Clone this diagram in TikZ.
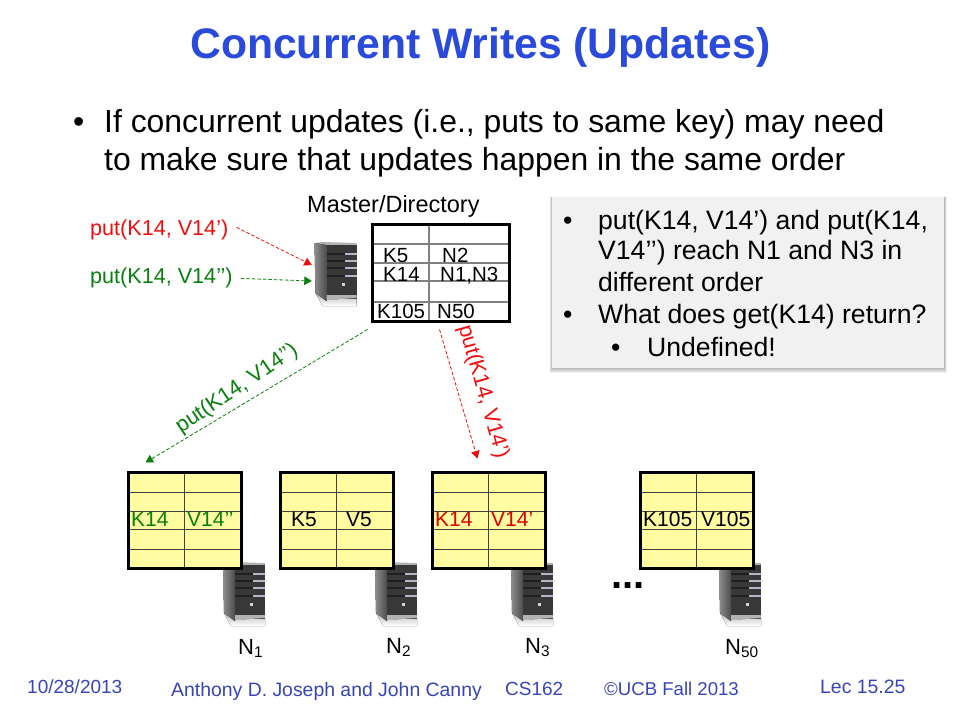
\documentclass[tikz,border=0pt]{standalone}
\usepackage{fontspec}
\usepackage{xcolor}
\usepackage{tikz}
\setmainfont{Liberation Sans}
\definecolor{slideblue}{rgb}{0.16, 0.29, 0.86}
\definecolor{footblue}{rgb}{0.22, 0.27, 0.72}
\definecolor{putgreen}{rgb}{0.03, 0.50, 0.05}
\definecolor{putred}{rgb}{0.95, 0.05, 0.05}
\definecolor{tabyellow}{rgb}{1.0, 0.99, 0.63}
\definecolor{boxgray}{rgb}{0.945, 0.945, 0.945}
\usetikzlibrary{arrows.meta}
\newcommand{\fsz}[1]{\fontsize{#1}{#1}\selectfont}

\tikzset{
	txt/.style = {anchor=base west, inner sep=0pt},
	tabnode/.style = {draw, line width=3pt, minimum width=113pt, minimum height=96pt, inner sep=0pt},
	putarrow/.style = {line width=0.8pt, dash pattern=on 3.5pt off 2pt, -{Triangle[length=7.5pt,width=8.5pt]}},
	serverpic/.pic = {
		\fill[top color=gray!55, bottom color=white] (1,50) -- (12,57) -- (42,55) -- (42,63) -- (8,63) -- cycle;
		\fill[gray!60] (0,0) -- (12,2) -- (42,2) -- (42,0) -- (8,-1) -- cycle;
		\fill[left color=black!45, right color=black!70] (0,0) -- (12,2) -- (12,58) -- (1,50) -- cycle;
		\node[fill=black!78, inner sep=0pt, minimum width=30pt, minimum height=54pt] (-body) at (27,29) {};
		\foreach \ya in {10,17,24,32} {
			\fill[black!88] (12,\ya) rectangle (30,\ya+1.5);
			\fill[blue!15!gray!50] (30,\ya-0.5) rectangle (42,\ya+1.5);
		}
		\fill[gray!35] (27,40) rectangle (30,43);
		\fill[gray!60] (12,52) -- (42,52) -- (42,55) -- (12,57) -- cycle;
	}
}

\begin{document}
\begin{tikzpicture}[x=1pt,y=-1pt]
	\useasboundingbox (0,0) rectangle (960,720);
	\fill[white] (0,0) rectangle (960,720);

	\node[txt, font=\fsz{42.7}\bfseries, text=slideblue] (title) at (190,58) {Concurrent Writes (Updates)};
	\node[txt, font=\fsz{31.9}] (bul0) at (73,132) {•};
	\node[txt, font=\fsz{31.9}] (intro1) at (104,132) {If concurrent updates (i.e., puts to same key) may need};
	\node[txt, font=\fsz{31.9}] (intro2) at (104,170) {to make sure that updates happen in the same order};

	% master
	\node[txt, font=\fsz{23.5}] (mastertxt) at (307,212) {Master/Directory};
	\pic (ms) at (314.5,243) {serverpic};
	\node[tabnode, draw=none, fill=white, minimum width=137pt, minimum height=97pt] (mastertab) at (440.5,272.5) {};
	\draw[gray, line width=1.5pt] (429,224) -- (429,321);
	\foreach \yb in {244,263,281,302} {
		\draw[gray, line width=1.5pt] (372,\yb) -- (509,\yb);
	}
	\node[tabnode, minimum width=137pt, minimum height=97pt] (masterframe) at (440.5,272.5) {};
	\node[txt, font=\fsz{20.5}] (mk1) at (383,262) {K5};
	\node[txt, font=\fsz{20.5}] (mv1) at (442,262) {N2};
	\node[txt, font=\fsz{20.5}] (mk2) at (383,281) {K14};
	\node[txt, font=\fsz{20.5}] (mv2) at (440,281) {N1,N3};
	\node[txt, font=\fsz{20.5}] (mk3) at (377,318) {K105};
	\node[txt, font=\fsz{20.5}] (mv3) at (437,318) {N50};

	\node[txt, font=\fsz{21.6}, text=putred] (putone) at (90,235) {put(K14, V14’)};
	\node[txt, font=\fsz{21.6}, text=putgreen] (puttwo) at (90,283) {put(K14, V14’’)};
	\draw[putarrow, putred] ([shift={(8,-2)}]putone.east) -- ([shift={(-14.5,-7)}]ms-body.west);
	\draw[putarrow, putgreen] ([shift={(8,1)}]puttwo.east) -- ([shift={(-14.5,9)}]ms-body.west);

	% storage nodes
	\foreach \nm/\xa/\sx/\keytxt/\valtxt/\colr/\dk/\dv in {n1/128/95/K14/V14’’/putgreen/3/3, n2/280/95/K5/V5/black/11/10, n3/432/79/K14/V14’/red!85!black/3/3, n50/640/79/K105/V105/black/3/5} {
		\pic (\nm srv) at (\xa+\sx,563) {serverpic};
		\node[tabnode, fill=tabyellow] (\nm tab) at (\xa+56.5,520) {};
		\draw[black!75, line width=1pt] (\xa+56,472) -- (\xa+56,568);
		\foreach \yb in {492,511,529,549} {
			\draw[black!75, line width=1pt] (\xa,\yb) -- (\xa+113,\yb);
		}
		\node[tabnode] (\nm frame) at (\xa+56.5,520) {};
		\node[txt, font=\fsz{21}, text=\colr] (\nm key) at (\xa+\dk,526) {\keytxt};
		\node[txt, font=\fsz{21}, text=\colr] (\nm val) at (\xa+56+\dv,526) {\valtxt};
	}

	\node[txt, font=\fsz{22}] (lab1) at (238,654) {N\textsubscript{1}};
	\node[txt, font=\fsz{22}] (lab2) at (386,653) {N\textsubscript{2}};
	\node[txt, font=\fsz{22}] (lab3) at (525,653) {N\textsubscript{3}};
	\node[txt, font=\fsz{22}] (lab50) at (725,654) {N\textsubscript{50}};
	\node[txt, font=\fsz{40}\bfseries] (dots) at (611,588) {...};

	\draw[putarrow, putgreen] ([shift={(-3,7)}]mastertab.south west) -- ([shift={(19,-8)}]n1tab.north west);
	\draw[putarrow, putred] ([shift={(69,7)}]mastertab.south west) -- ([shift={(47,-12)}]n3tab.north west);
	\node[font=\fsz{21.6}, text=putgreen, rotate=34, inner sep=0pt] (putgreenlab) at (237,389) {put(K14, V14’’)};
	\node[font=\fsz{21.6}, text=putred, rotate=-74, inner sep=0pt] (putredlab) at (483,392) {put(K14, V14’)};

	% callout
	\foreach \sh in {1,...,5} {
		\fill[black, opacity=0.06] (552-\sh/2,197) rectangle (944+\sh/2,368+\sh);
	}
	\node[fill=boxgray, minimum width=392pt, minimum height=171pt, inner sep=0pt] (callout) at (748,282.5) {};
	\node[txt, font=\fsz{26.6}] (cb1) at (563,229) {•};
	\node[txt, font=\fsz{26.6}] (c1) at (598,229) {put(K14, V14’) and put(K14,};
	\node[txt, font=\fsz{26.6}] (c2) at (598,259) {V14’’) reach N1 and N3 in};
	\node[txt, font=\fsz{26.6}] (c3) at (598,291) {different order};
	\node[txt, font=\fsz{26.6}] (cb2) at (563,323) {•};
	\node[txt, font=\fsz{26.6}] (c4) at (598,323) {What does get(K14) return?};
	\node[txt, font=\fsz{26.6}] (cb3) at (611,356) {•};
	\node[txt, font=\fsz{26.6}] (c5) at (647,356) {Undefined!};

	% footer
	\node[txt, font=\fsz{19}, text=footblue] (fdate) at (27,693) {10/28/2013};
	\node[txt, font=\fsz{19.4}, text=footblue] (fauth) at (171,696) {Anthony D. Joseph and John Canny};
	\node[txt, font=\fsz{19}, text=footblue] (fcourse) at (505,695) {CS162};
	\node[txt, font=\fsz{18.6}, text=footblue] (fterm) at (604,695) {©UCB Fall 2013};
	\node[txt, font=\fsz{19.4}, text=footblue] (flec) at (820,693) {Lec 15.25};
\end{tikzpicture}
\end{document}
